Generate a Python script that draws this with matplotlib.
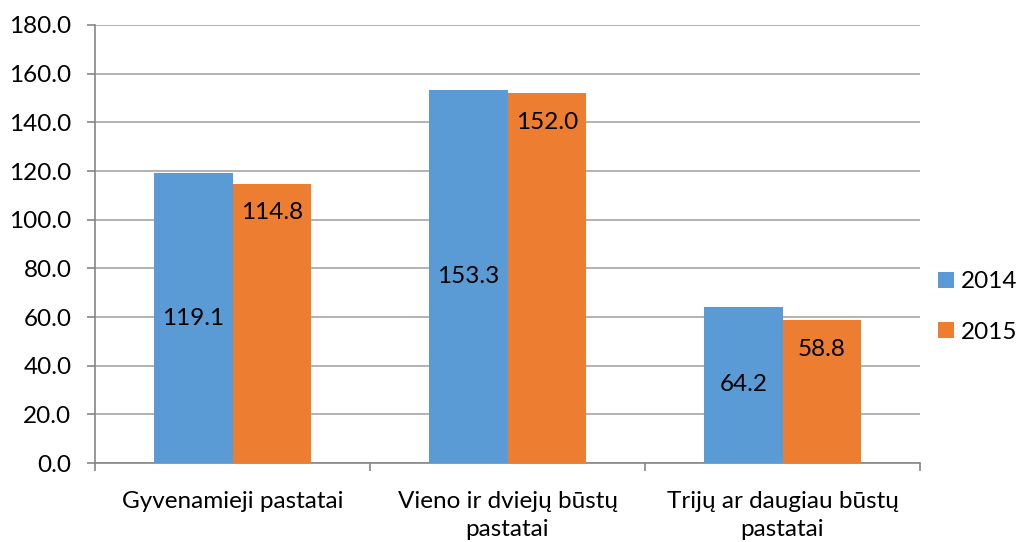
import numpy as np
import matplotlib.pyplot as plt

categories = ["Gyvenamieji pastatai", "Vieno ir dviejų būstų\npastatai", "Trijų ar daugiau būstų\npastatai"]
years = ["2014", "2015"]
values_2014 = [119.1, 153.3, 64.2]
values_2015 = [114.8, 152.0, 58.8]

blue = "#5B9BD5"
orange = "#ED7D31"
grid_col = "#A6A6A6"
axis_col = "#868686"
fs = 17.5

plt.rcParams['font.family'] = ['Lato', 'DejaVu Sans']
plt.rcParams['font.size'] = fs

fig = plt.figure(figsize=(10.19, 5.42), dpi=100)
ax = fig.add_axes([95/1019, 1-463/542, 825/1019, 438/542])

x = np.arange(len(categories))
w = 0.285
b1 = ax.bar(x - w/2, values_2014, w, color=blue, label=years[0], zorder=3)
b2 = ax.bar(x + w/2, values_2015, w, color=orange, label=years[1], zorder=3)

# blue labels centred, orange labels near top inside the bar
for rect, v in zip(b1, values_2014):
    ax.text(rect.get_x() + rect.get_width()/2, v/2, f"{v:.1f}",
            ha="center", va="center", fontsize=fs, zorder=4)
for rect, v in zip(b2, values_2015):
    ax.text(rect.get_x() + rect.get_width()/2, v - 12, f"{v:.1f}",
            ha="center", va="center", fontsize=fs, zorder=4)

ax.set_xlim(-0.5, len(categories) - 0.5)
ax.set_ylim(0, 180)
ax.set_yticks(np.arange(0, 181, 20))
ax.set_yticklabels([f"{t:.1f}" for t in np.arange(0, 181, 20)])
ax.yaxis.grid(True, color=grid_col, linewidth=1.2, zorder=0)

ax.set_xticks(x)
ax.set_xticklabels(categories, linespacing=1.4)
ax.set_xticks(np.arange(-0.5, len(categories), 1), minor=True)
ax.tick_params(axis="x", which="major", length=0, pad=20)
ax.tick_params(axis="x", which="minor", length=6, color=axis_col, width=1.2)
ax.tick_params(axis="y", length=6, color=axis_col, width=1.2, pad=11)

for s in ["top", "right"]:
    ax.spines[s].set_visible(False)
for s in ["left", "bottom"]:
    ax.spines[s].set_color(axis_col)
    ax.spines[s].set_linewidth(1.2)

fig.legend(handles=[b1, b2], labels=years, loc="center left",
           bbox_to_anchor=(938/1019, 1-307/542), frameon=False,
           borderpad=0, borderaxespad=0,
           handlelength=0.65, handleheight=0.65, handletextpad=0.3,
           labelspacing=1.2, fontsize=fs)

fig.savefig("out.png", dpi=100)
